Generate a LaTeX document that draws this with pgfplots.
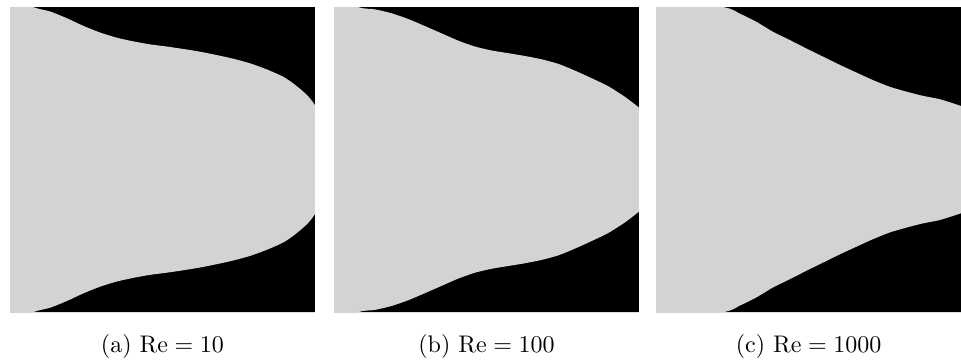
\documentclass[border=0pt]{standalone}
\usepackage{pgfplots}
\pgfplotsset{compat=1.18}
\definecolor{shape}{RGB}{211,211,211}
\pgfplotsset{panel/.style={
  width=127pt, height=127pt, scale only axis,
  xmin=0, xmax=1, ymin=0, ymax=1,
  ticks=none, axis line style={gray!25, line width=0.4pt},
  anchor=south west,
  xlabel style={at={(axis description cs:0.5,0)}, anchor=base, yshift=-16.8pt, inner sep=0pt},
}}
\begin{document}
\begin{tikzpicture}
\useasboundingbox (0,0) rectangle (400.4pt,150.8pt);
% (a)
\begin{axis}[panel, at={(4.2pt,20.8pt)}, xlabel={(a) $\mathrm{Re} = 10$}]
\addplot[fill=black, draw=none] coordinates {(0,0) (1,0) (1,1) (0,1)};
\addplot[fill=shape, draw=none, smooth, tension=0.4] coordinates {
(-0.05,1.05)(0.0765,1)(0.131,0.986)(0.186,0.964)(0.240,0.939)(0.295,0.917)(0.350,0.900)(0.404,0.888)(0.459,0.878)(0.514,0.871)(0.568,0.863)(0.623,0.854)(0.678,0.843)(0.732,0.831)(0.787,0.816)(0.842,0.796)(0.896,0.772)(0.929,0.750)(0.962,0.723)(0.984,0.701)(1,0.679)(1.03,0.63)(1.06,0.5)
(1.03,0.37)(1,0.321)(0.984,0.299)(0.962,0.277)(0.929,0.250)(0.896,0.228)(0.842,0.204)(0.787,0.184)(0.732,0.169)(0.678,0.157)(0.623,0.146)(0.568,0.137)(0.514,0.129)(0.459,0.122)(0.404,0.112)(0.350,0.100)(0.295,0.083)(0.240,0.061)(0.186,0.036)(0.131,0.014)(0.0765,0)(-0.05,-0.05)};
\end{axis}
% (b)
\begin{axis}[panel, at={(139.2pt,20.8pt)}, xlabel={(b) $\mathrm{Re} = 100$}]
\addplot[fill=black, draw=none] coordinates {(0,0) (1,0) (1,1) (0,1)};
\addplot[fill=shape, draw=none, smooth, tension=0.4] coordinates {
(-0.05,1.05)(0.080,1)(0.134,0.993)(0.189,0.980)(0.244,0.961)(0.298,0.938)(0.353,0.914)(0.408,0.890)(0.462,0.871)(0.517,0.858)(0.572,0.849)(0.626,0.840)(0.681,0.829)(0.736,0.814)(0.790,0.792)(0.845,0.767)(0.899,0.741)(0.954,0.706)(1,0.671)(1.05,0.63)(1.1,0.5)
(1.05,0.37)(1,0.329)(0.954,0.294)(0.899,0.259)(0.845,0.233)(0.790,0.208)(0.736,0.186)(0.681,0.171)(0.626,0.160)(0.572,0.151)(0.517,0.142)(0.462,0.129)(0.408,0.110)(0.353,0.086)(0.298,0.062)(0.244,0.039)(0.189,0.020)(0.134,0.007)(0.080,0)(-0.05,-0.05)};
\end{axis}
% (c)
\begin{axis}[panel, at={(273.4pt,20.8pt)}, xlabel={(c) $\mathrm{Re} = 1000$}]
\addplot[fill=black, draw=none] coordinates {(0,0) (1,0) (1,1) (0,1)};
\addplot[fill=shape, draw=none, smooth, tension=0.4] coordinates {
(-0.05,1.05)(0.223,1)(0.272,0.980)(0.327,0.953)(0.382,0.920)(0.437,0.893)(0.492,0.865)(0.547,0.838)(0.602,0.811)(0.656,0.786)(0.711,0.761)(0.766,0.739)(0.821,0.723)(0.876,0.709)(0.931,0.698)(1,0.676)(1.07,0.65)(1.14,0.5)
(1.07,0.35)(1,0.324)(0.931,0.302)(0.876,0.291)(0.821,0.277)(0.766,0.261)(0.711,0.239)(0.656,0.214)(0.602,0.189)(0.547,0.162)(0.492,0.135)(0.437,0.107)(0.382,0.080)(0.327,0.047)(0.272,0.020)(0.223,0)(-0.05,-0.05)};
\end{axis}
\end{tikzpicture}
\end{document}
